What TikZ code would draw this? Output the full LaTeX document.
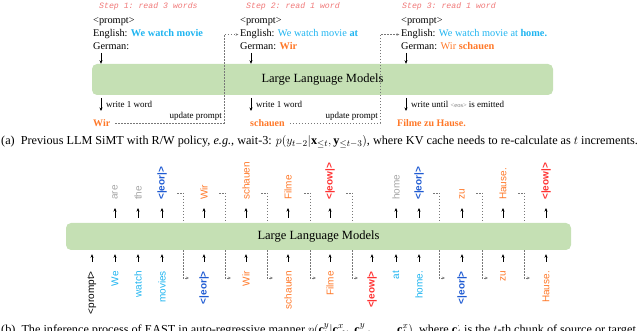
\documentclass[tikz,border=0pt]{standalone}
\usepackage{fontspec}
\setmainfont{Liberation Serif}
\setsansfont{Liberation Sans}
\setmonofont{Liberation Mono}
\usetikzlibrary{arrows.meta}
\definecolor{llm}{RGB}{197,224,180}
\definecolor{src}{RGB}{30,180,240}
\definecolor{tgt}{RGB}{255,120,40}
\definecolor{eorc}{RGB}{30,90,210}
\definecolor{eowc}{RGB}{255,50,50}
\definecolor{steptxt}{RGB}{240,120,120}
\definecolor{faint}{RGB}{165,165,165}
\definecolor{eosc}{RGB}{120,120,120}
\definecolor{dashc}{RGB}{120,120,120}
\newcommand\eorT{\textbf{<|eor|>}}
\newcommand\eowT{\textbf{<|eow|>}}
\tikzset{
  steplbl/.style={anchor=west, inner sep=0, text=steptxt, font=\fontsize{8.2}{10}\selectfont\ttfamily\itshape},
  pl/.style={anchor=base west, inner sep=0, font=\fontsize{10.3}{12}\selectfont},
  llmbox/.style={fill=llm, rounded corners=5pt, inner sep=0, font=\fontsize{12.5}{14}\selectfont},
  arr/.style={line width=0.8pt, -{Stealth[length=3.5pt,width=3pt]}},
  fb/.style={draw=dashc, line width=0.6pt, dash pattern=on 1.5pt off 1.5pt, -{Stealth[length=3pt,width=2.5pt]}},
  smalltxt/.style={inner sep=0, font=\fontsize{9}{11}\selectfont},
  outw/.style={inner sep=0, anchor=base west, font=\fontsize{10}{12}\selectfont\bfseries, text=tgt},
  captxt/.style={inner sep=0, anchor=base west, font=\fontsize{12.2}{14}\selectfont},
  tok/.style={inner sep=0, rotate=90, font=\fontsize{10}{12}\sffamily\selectfont},
}
\begin{document}
\begin{tikzpicture}[x=1pt,y=-1pt]
\useasboundingbox (0,0) rectangle (640,331);

% ---------- (a) ----------
\node[steplbl] (s1) at (99,6) {Step 1: read 3 words};
\node[steplbl] (s2) at (246,6) {Step 2: read 1 word};
\node[steplbl] (s3) at (402,6) {Step 3: read 1 word};

\node[pl] (p1) at (93,24) {<prompt>};
\node[pl] (e1) at (93,37) {English: \textbf{\color{src}We watch movie}};
\node[pl] (g1) at (93,50) {German:};

\node[pl] (p2) at (240,24) {<prompt>};
\node[pl] (e2) at (240,37) {English: {\color{src}We watch movie \textbf{at}}};
\node[pl] (g2) at (240,50) {German: \textbf{\color{tgt}Wir}};

\node[pl] (p3) at (401,24) {<prompt>};
\node[pl] (e3) at (401,37) {English: {\color{src}We watch movie at \textbf{home.}}};
\node[pl] (g3) at (401,50) {German: {\color{tgt}Wir \textbf{schauen}}};

\node[llmbox, minimum width=461pt, minimum height=31pt] (llmA) at (322.5,79.5) {Large Language Models};

\coordinate (d1) at (101,53);
\coordinate (d2) at (251,53);
\coordinate (d3) at (406,53);
\draw[arr] (d1) -- (d1 |- llmA.north);
\draw[arr] (d2) -- (d2 |- llmA.north);
\draw[arr] (d3) -- (d3 |- llmA.north);

\coordinate (w1) at (101,98);
\coordinate (w2) at (251,98);
\coordinate (w3) at (406,98);
\draw[arr] (w1) -- ++(0,13);
\draw[arr] (w2) -- ++(0,13);
\draw[arr] (w3) -- ++(0,13);
\node[smalltxt, anchor=west] (l1) at (106,104.5) {write 1 word};
\node[smalltxt, anchor=west] (l2) at (256,104.5) {write 1 word};
\node[smalltxt, anchor=west] (l3) at (411,104.5) {write until {\color{eosc}\fontsize{6.5}{7}\selectfont<\textsc{eos}>} is emitted};

\node[outw] (o1) at (93,127) {Wir};
\node[outw] (o2) at (250,127) {schauen};
\node[outw] (o3) at (397,127) {Filme zu Hause.};

\coordinate (c1) at (224,123);
\coordinate (c2) at (380,123);
\draw[fb] ([xshift=5pt]o1.east |- c1) -- (c1) |- ([xshift=-1.5pt]e2.west);
\draw[fb] ([xshift=5pt]o2.east |- c2) -- (c2) |- ([xshift=-1.5pt]e3.west);
\node[smalltxt, anchor=east] (u1) at (222,116) {update prompt};
\node[smalltxt, anchor=east] (u2) at (378,116) {update prompt};

\node[captxt] (capA) at (1,145) {(a)~~Previous LLM SiMT with R/W policy, \textit{e.g.}, wait-3: $p(y_{t-2}|\mathbf{x}_{\leq t},\mathbf{y}_{\leq t-3})$, where KV cache needs to re-calculate as $t$ increments.};

% ---------- (b) ----------
\foreach \d in {183,225,267,310,352,439,482,524}{
  \draw[fb] ({\d-6},193) -- (\d,193) -- (\d,278) -- ({\d+6},278);
}

\node[llmbox, minimum width=505pt, minimum height=27pt] (llmB) at (318.5,236.5) {Large Language Models};

\foreach \x/\t/\c [count=\i] in {92/<prompt>/black, 115/We/src, 138/watch/src, 162/movies/src,
  204/\eorT/eorc, 246/Wir/tgt, 288/schauen/tgt, 330/Filme/tgt, 372/\eowT/eowc, 396/at/src,
  419/home./src, 462/\eorT/eorc, 503/zu/tgt, 546/Hause./tgt}{
  \node[tok, anchor=east, text=\c] (in\i) at (\x,271) {\t};
  \draw[arr] ([yshift=9pt]in\i.east) -- ([yshift=-4pt]llmB.south -| in\i.east);
}

\foreach \x/\t/\c [count=\i] in {115/are/faint, 138/the/faint, 162/\eorT/eorc, 204/Wir/tgt,
  246/schauen/tgt, 288/Filme/tgt, 330/\eowT/eowc, 396/home/faint, 419/\eorT/eorc,
  462/zu/tgt, 503/Hause./tgt, 546/\eowT/eowc}{
  \node[tok, anchor=west, text=\c] (out\i) at (\x,200) {\t};
  \draw[arr] ([yshift=5pt]llmB.north -| out\i.west) -- ([yshift=-8pt]out\i.west);
}

\node[captxt] (capB) at (1,333) {(b)~~The inference process of EAST in auto-regressive manner $p(\mathbf{c}^y_t|\mathbf{c}^x_{\leq t},\mathbf{c}^y_{<t},\ldots,\mathbf{c}^x_{t})$, where $\mathbf{c}^{\cdot}_t$ is the $t$-th chunk of source or target};
\end{tikzpicture}
\end{document}
